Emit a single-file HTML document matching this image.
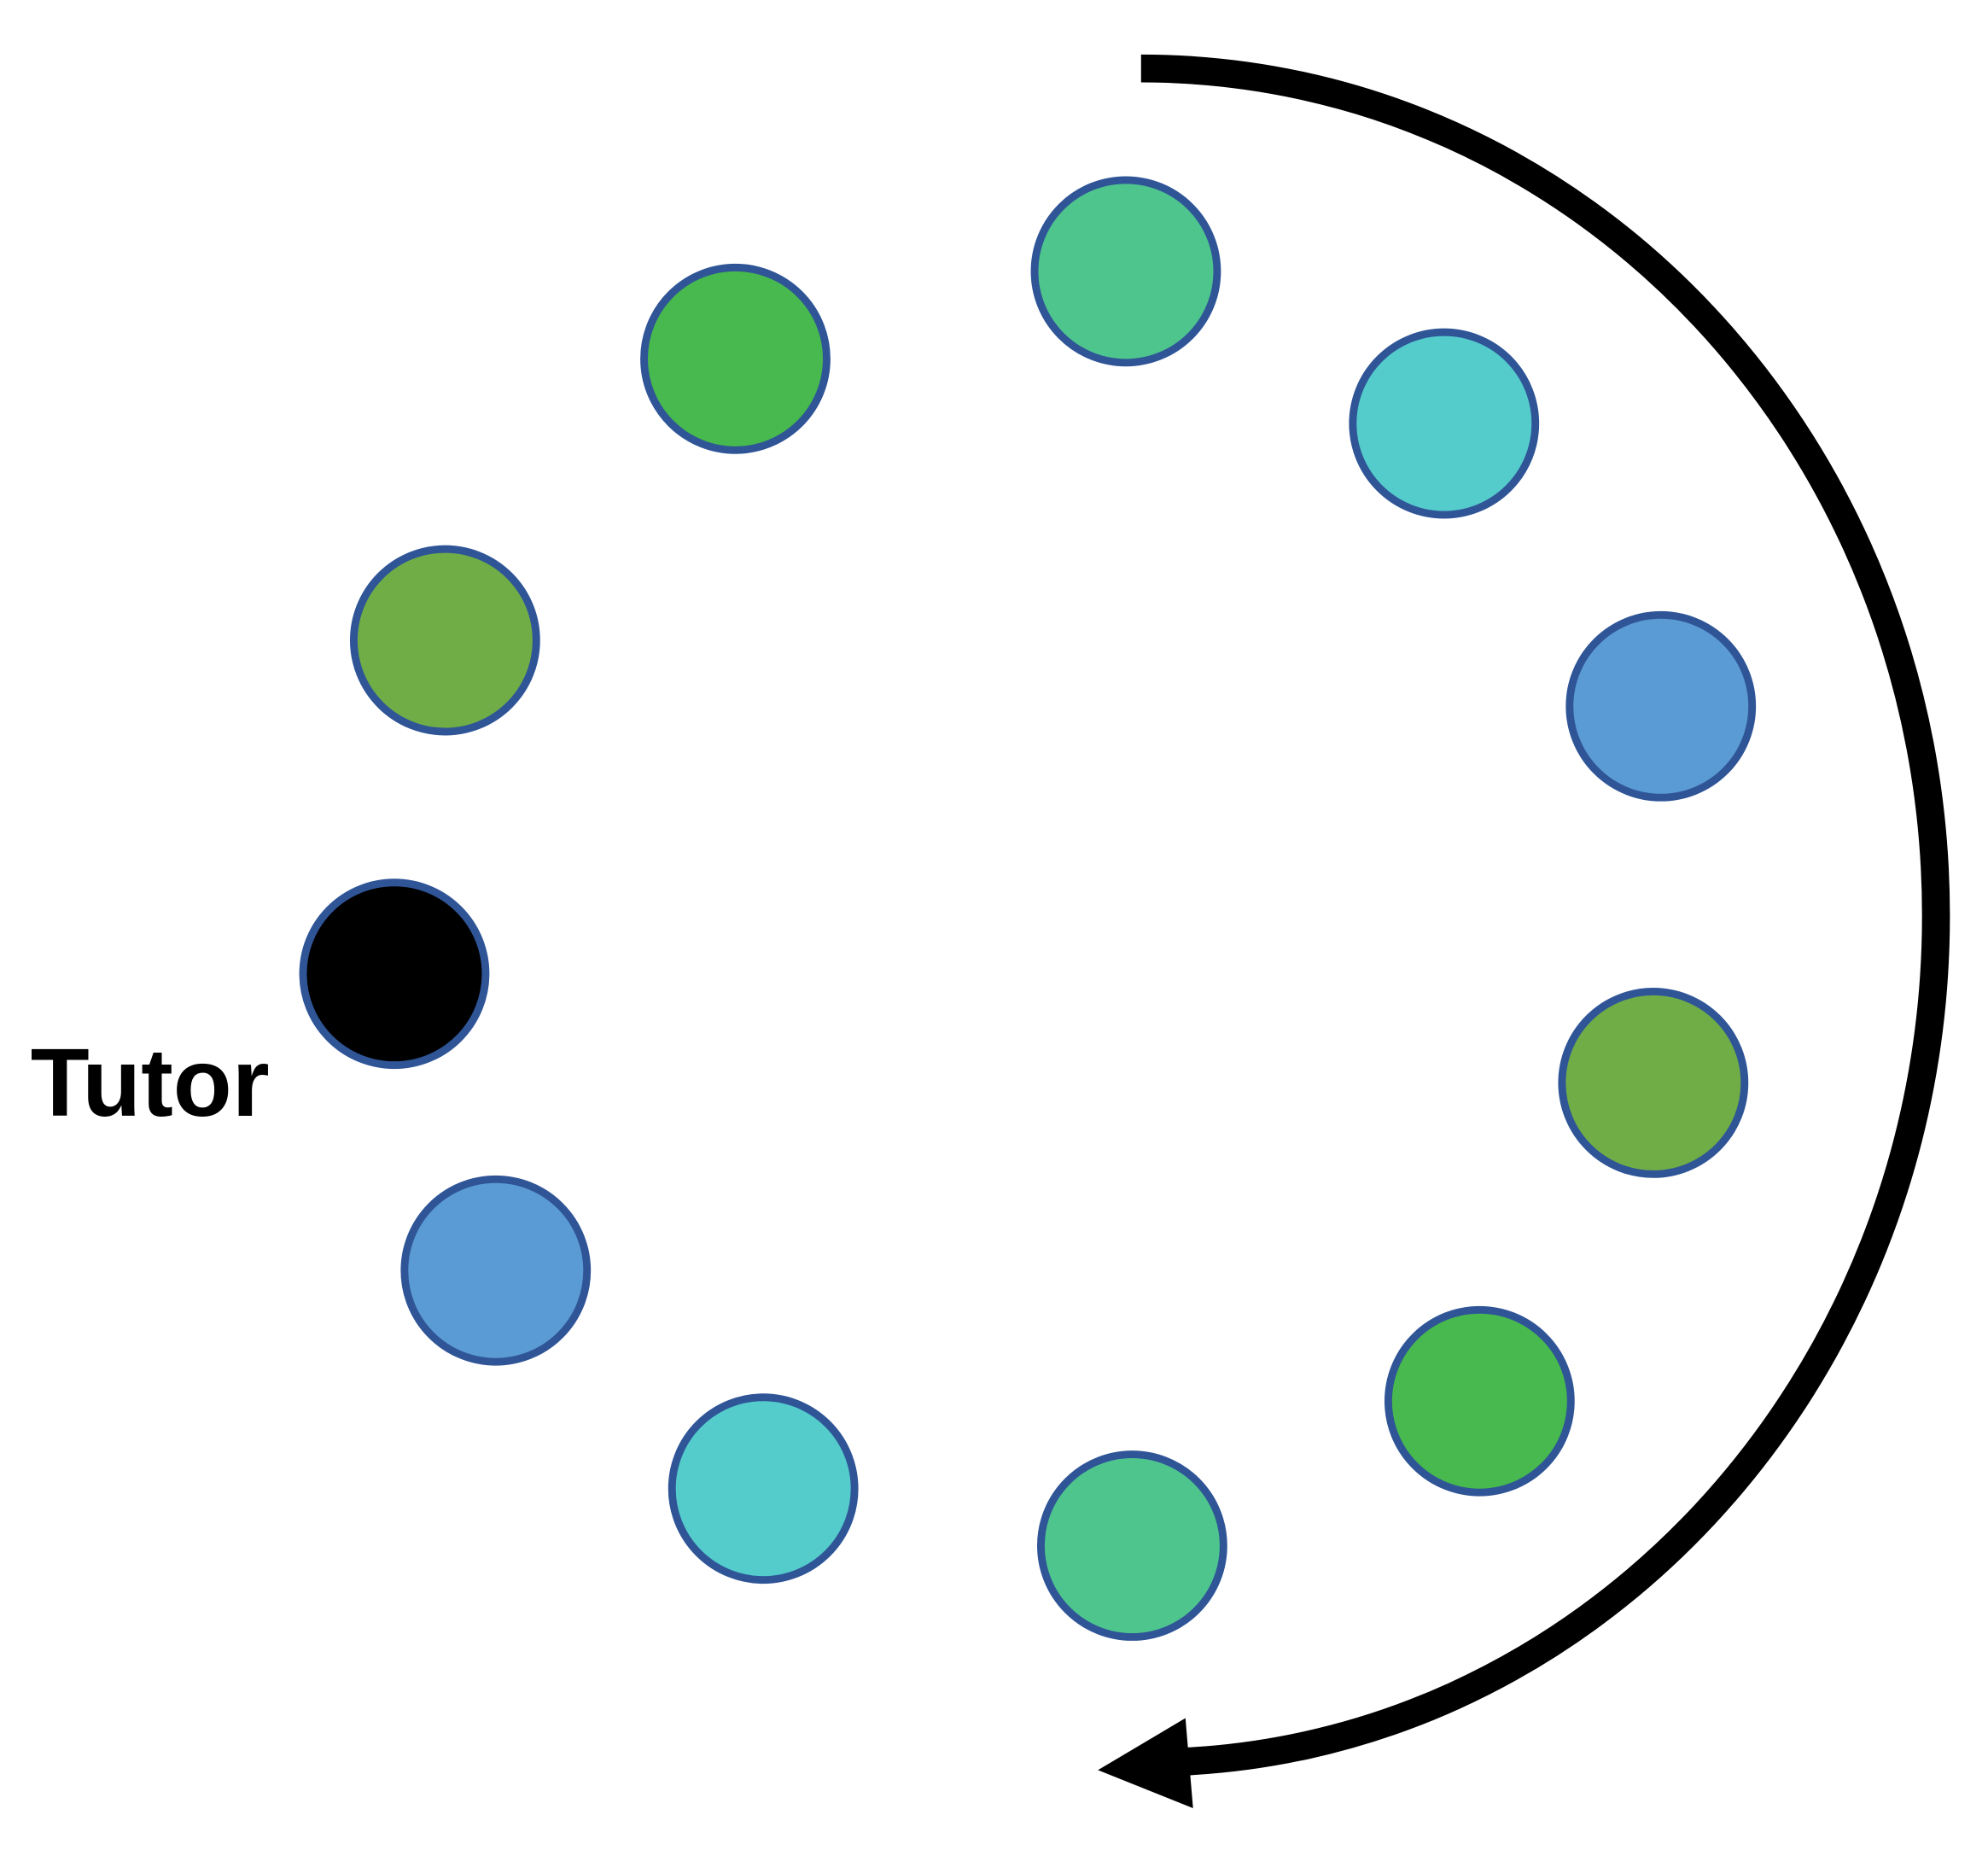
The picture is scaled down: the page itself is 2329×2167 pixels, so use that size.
<!DOCTYPE html>
<html>
<head>
<meta charset="utf-8">
<style>
html,body{margin:0;padding:0;background:#fff;}
svg{display:block;}
</style>
</head>
<body>
<svg width="2329" height="2167" viewBox="0 0 1568 1459" xmlns="http://www.w3.org/2000/svg">
  <g stroke="#2F5597" stroke-width="6">
    <circle cx="888" cy="214" r="72" fill="#4FC58E"/>
    <circle cx="580" cy="283" r="72" fill="#47B94E"/>
    <circle cx="1139" cy="334" r="72" fill="#55CCCC"/>
    <circle cx="351" cy="505" r="72" fill="#70AD47"/>
    <circle cx="1310" cy="557" r="72" fill="#5B9BD5"/>
    <circle cx="311" cy="768" r="72" fill="#000000"/>
    <circle cx="1304" cy="854" r="72" fill="#70AD47"/>
    <circle cx="391" cy="1002" r="72" fill="#5B9BD5"/>
    <circle cx="1167" cy="1105" r="72" fill="#47B94E"/>
    <circle cx="602" cy="1174" r="72" fill="#55CCCC"/>
    <circle cx="893" cy="1219" r="72" fill="#4FC58E"/>
  </g>
  <path d="M900,54 C1248,54 1527,353 1527,722 C1527,1091 1248,1390 905,1390" fill="none" stroke="#000" stroke-width="22"/>
  <polygon points="866,1396 935,1355 941,1426" fill="#000"/>
  <text x="24" y="880" font-family="Liberation Sans, sans-serif" font-weight="bold" font-size="76" fill="#000">Tutor</text>
</svg>
</body>
</html>
